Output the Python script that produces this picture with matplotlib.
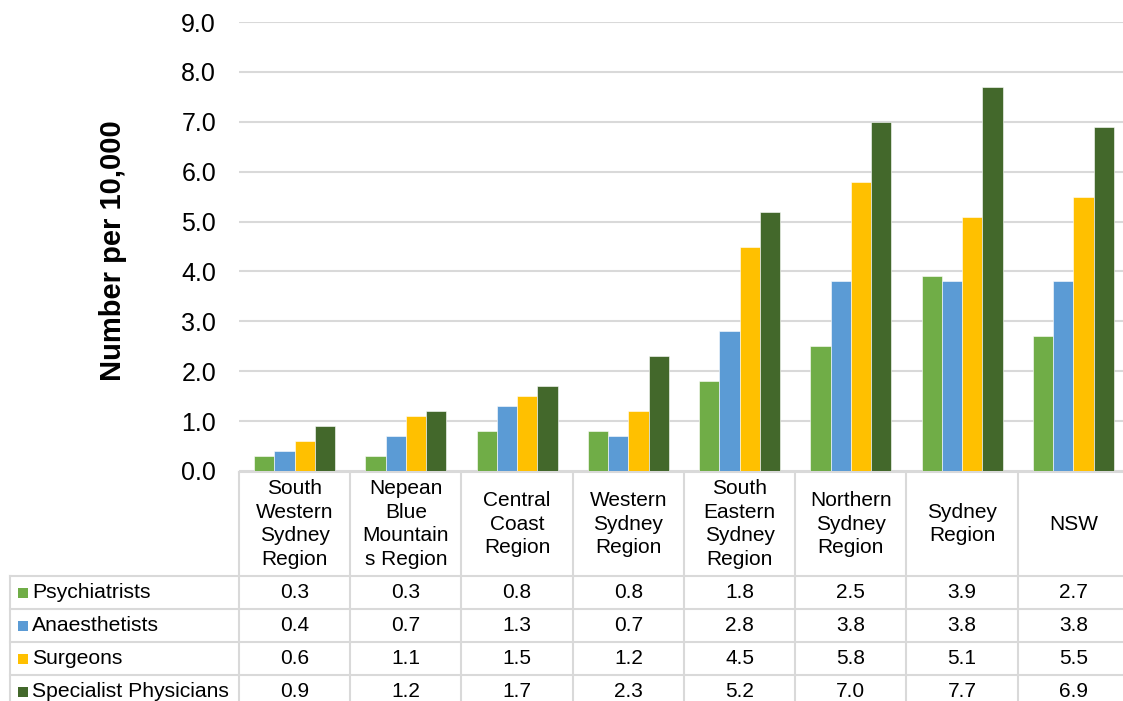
import matplotlib
matplotlib.use("Agg")
import matplotlib.pyplot as plt
import matplotlib.transforms as mtransforms
from matplotlib.patches import Rectangle
import numpy as np

plt.rcParams['font.family'] = ['Liberation Sans', 'DejaVu Sans']

# Regions (table column headers)
regions = [
    "South\nWestern\nSydney\nRegion",
    "Nepean\nBlue\nMountain\ns Region",
    "Central\nCoast\nRegion",
    "Western\nSydney\nRegion",
    "South\nEastern\nSydney\nRegion",
    "Northern\nSydney\nRegion",
    "Sydney\nRegion",
    "NSW",
]

# Specialists per 10,000 population
series_names = ["Psychiatrists", "Anaesthetists", "Surgeons", "Specialist Physicians"]
psychiatrists = [0.3, 0.3, 0.8, 0.8, 1.8, 2.5, 3.9, 2.7]
anaesthetists = [0.4, 0.7, 1.3, 0.7, 2.8, 3.8, 3.8, 3.8]
surgeons = [0.6, 1.1, 1.5, 1.2, 4.5, 5.8, 5.1, 5.5]
physicians = [0.9, 1.2, 1.7, 2.3, 5.2, 7.0, 7.7, 6.9]

y_ticks = [0, 1, 2, 3, 4, 5, 6, 7, 8, 9]

series_values = [psychiatrists, anaesthetists, surgeons, physicians]
colors = ["#70AD47", "#5B9BD5", "#FFC000", "#43682B"]
grid_col = "#D9D9D9"

W, H = 1123, 701
fig = plt.figure(figsize=(W / 100, H / 100), dpi=100)
fig.patch.set_facecolor("white")

# Pixel-space overlay for the data table
ov = fig.add_axes([0, 0, 1, 1], zorder=0)
ov.set_xlim(0, W)
ov.set_ylim(H, 0)
ov.axis("off")

# Main plotting area
ax_left, ax_right, ax_top, ax_bottom = 239, 1129, 22, 471
ax = fig.add_axes([ax_left / W, (H - ax_bottom) / H,
                   (ax_right - ax_left) / W, (ax_bottom - ax_top) / H], zorder=1)
ax.patch.set_alpha(0)

n = len(regions)
x = np.arange(n)
bw = 0.1825
for j, (vals, col) in enumerate(zip(series_values, colors)):
    ax.bar(x + (j - 1.5) * bw, vals, width=bw, color=col,
           edgecolor="white", linewidth=0.4, zorder=3, label=series_names[j])

ax.set_xlim(-0.5, n - 0.5)
ax.set_ylim(0, 9)
ax.set_yticks(y_ticks)
ax.set_yticklabels([f"{v:.1f}" for v in y_ticks])
ax.set_xticks([])
ax.tick_params(axis="y", length=0, pad=16.5, labelsize=18, labelcolor="black")
ax.yaxis.grid(True, color=grid_col, linewidth=1.5, zorder=0)
ax.set_axisbelow(True)
for s in ax.spines.values():
    s.set_visible(False)

ov.text(113, 251, "Number per 10,000", rotation=90, ha="center", va="center",
        fontsize=21, fontweight="bold", color="black")

# Data table below the chart
trans = mtransforms.blended_transform_factory(ax.transData, ov.transData)
lw = 1.5
header_top, header_bot = 472, 576
row_edges = [576, 609, 642, 675, 708]
bottom = 712

ov.plot([-0.5, n - 0.5], [header_top, header_top], color=grid_col, lw=lw,
        transform=trans, clip_on=False)
for k in range(n + 1):
    ov.plot([k - 0.5, k - 0.5], [header_top, bottom], color=grid_col, lw=lw,
            transform=trans, clip_on=False)
for ye in row_edges:
    ov.plot([10, ax_right + 5], [ye, ye], color=grid_col, lw=lw, clip_on=False)
ov.plot([10, 10], [header_bot, bottom], color=grid_col, lw=lw, clip_on=False)

for i, name in enumerate(regions):
    ov.text(i, (header_top + header_bot) / 2, name, transform=trans,
            ha="center", va="center", fontsize=15, linespacing=1.29,
            color="black")

for r, (sname, vals, col) in enumerate(zip(series_names, series_values, colors)):
    yc = (row_edges[r] + row_edges[r + 1]) / 2
    ov.add_patch(Rectangle((18, yc - 5), 10, 10, facecolor=col, edgecolor="none"))
    ov.text(32, yc, sname, ha="left", va="center", fontsize=15.2, color="black")
    for i, v in enumerate(vals):
        ov.text(i, yc, f"{v:.1f}", transform=trans, ha="center", va="center",
                fontsize=15, color="black")

fig.savefig("out.png", dpi=100)
